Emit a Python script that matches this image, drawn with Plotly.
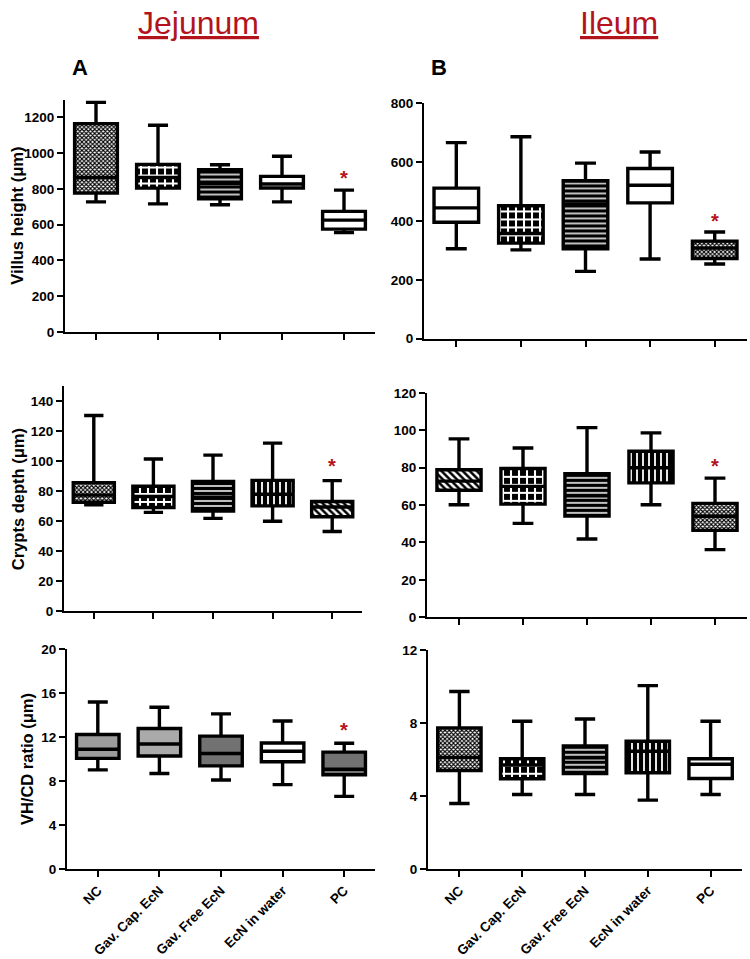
import plotly.graph_objects as go

W, H = 750, 959

groups = ["NC", "Gav. Cap. EcN", "Gav. Free EcN", "EcN in water", "PC"]
xpos = [0, 1, 2, 3, 4]

# ---- Jejunum villus height (um)
jej_vh_lo = [727, 716, 711, 727, 555]
jej_vh_q1 = [776, 804, 745, 805, 575]
jej_vh_med = [864, 864, 830, 827, 625]
jej_vh_q3 = [1165, 937, 908, 870, 674]
jej_vh_hi = [1284, 1156, 935, 983, 793]

# ---- Ileum villus height (um)
ile_vh_lo = [306, 302, 229, 271, 254]
ile_vh_q1 = [396, 325, 306, 462, 273]
ile_vh_med = [445, 358, 458, 522, 308]
ile_vh_q3 = [512, 452, 537, 579, 332]
ile_vh_hi = [667, 687, 597, 635, 363]

# ---- Jejunum crypt depth (um)
jej_cd_lo = [70.9, 65.9, 61.9, 60.0, 53.2]
jej_cd_q1 = [72.6, 69.1, 66.7, 70.2, 63.0]
jej_cd_med = [77.4, 76.5, 76.0, 78.0, 69.5]
jej_cd_q3 = [85.7, 83.3, 86.4, 87.2, 73.1]
jej_cd_hi = [130.4, 101.4, 104.0, 112.0, 87.0]

# ---- Ileum crypt depth (um)
ile_cd_lo = [60.2, 50.2, 41.9, 60.2, 36.2]
ile_cd_q1 = [67.9, 60.5, 54.2, 71.9, 46.5]
ile_cd_med = [72.8, 70.0, 65.0, 80.0, 54.0]
ile_cd_q3 = [78.9, 79.6, 76.8, 88.8, 60.9]
ile_cd_hi = [95.4, 90.5, 101.4, 98.6, 74.4]

# ---- Jejunum VH/CD ratio
jej_r_lo = [9.02, 8.69, 8.10, 7.68, 6.61]
jej_r_q1 = [10.06, 10.27, 9.38, 9.76, 8.57]
jej_r_med = [10.89, 11.37, 10.50, 10.71, 9.08]
jej_r_q3 = [12.23, 12.77, 12.08, 11.46, 10.63]
jej_r_hi = [15.18, 14.70, 14.10, 13.45, 11.43]

# ---- Ileum VH/CD ratio
ile_r_lo = [3.60, 4.09, 4.09, 3.78, 4.09]
ile_r_q1 = [5.40, 4.95, 5.23, 5.28, 4.96]
ile_r_med = [6.12, 5.70, 6.10, 6.45, 5.74]
ile_r_q3 = [7.73, 6.04, 6.74, 7.00, 6.04]
ile_r_hi = [9.72, 8.09, 8.22, 10.04, 8.09]

# significance star positions (value axis) for PC group
star_y = [888, 419, 100, 83.7, 13.1, None]

y_titles = ["Villus height (\u03bcm)", None, "Crypts depth (\u03bcm)", None, "VH/CD ratio (\u03bcm)", None]

# ---------------- styling ----------------
FONT = "Liberation Sans, Arial, sans-serif"
RED = "#b3141c"

# fill styles: (shape, fg, bg, size, solidity, plain color)
STY = {
    "fine": ("x", "#000000", "#ffffff", 3, 0.6, "#ffffff"),
    "checker": ("+", "#ffffff", "#000000", 8, 0.45, "#ffffff"),
    "hlines": ("-", "#000000", "#ffffff", 5, 0.7, "#ffffff"),
    "vlines": ("|", "#000000", "#ffffff", 6, 0.7, "#ffffff"),
    "diag": ("\\", "#000000", "#ffffff", 5, 0.5, "#ffffff"),
    "white": ("", None, None, None, None, "#ffffff"),
    "grey": ("", None, None, None, None, "#9c9c9c"),
    "lgrey": ("", None, None, None, None, "#aaaaaa"),
    "dgrey": ("", None, None, None, None, "#727272"),
}

panels = [
    dict(d=(jej_vh_lo, jej_vh_q1, jej_vh_med, jej_vh_q3, jej_vh_hi),
         fills=["fine", "checker", "hlines", "white", "white"],
         xd=(65, 375), yd=(94, 330), yr=(0, 1300), dt=200, ymaxtick=1200),
    dict(d=(ile_vh_lo, ile_vh_q1, ile_vh_med, ile_vh_q3, ile_vh_hi),
         fills=["white", "checker", "hlines", "white", "fine"],
         xd=(424, 747), yd=(98, 337), yr=(0, 800), dt=200, ymaxtick=800),
    dict(d=(jej_cd_lo, jej_cd_q1, jej_cd_med, jej_cd_q3, jej_cd_hi),
         fills=["fine", "checker", "hlines", "vlines", "diag"],
         xd=(64, 362), yd=(385, 614), yr=(0, 150), dt=20, ymaxtick=140),
    dict(d=(ile_cd_lo, ile_cd_q1, ile_cd_med, ile_cd_q3, ile_cd_hi),
         fills=["diag", "checker", "hlines", "vlines", "fine"],
         xd=(427, 747), yd=(392, 620), yr=(0, 120), dt=20, ymaxtick=120),
    dict(d=(jej_r_lo, jej_r_q1, jej_r_med, jej_r_q3, jej_r_hi),
         fills=["grey", "lgrey", "dgrey", "white", "dgrey"],
         xd=(67, 375), yd=(652, 876), yr=(0, 20), dt=4, ymaxtick=20),
    dict(d=(ile_r_lo, ile_r_q1, ile_r_med, ile_r_q3, ile_r_hi),
         fills=["fine", "checker", "hlines", "vlines", "white"],
         xd=(428, 742), yd=(653, 876), yr=(0, 12), dt=4, ymaxtick=12),
]


def px_x(p):
    return p / W


def px_y(p):
    return 1 - p / H


fig = go.Figure()
layout = {}
annotations = []

for i, pnl in enumerate(panels):
    n = i + 1
    xa = "x" if n == 1 else f"x{n}"
    ya = "y" if n == 1 else f"y{n}"
    lo, q1, med, q3, hi = pnl["d"]

    # interquartile fill (one bar per group, patterned)
    for k in range(len(xpos)):
        shape, fg, bg, size, sol, col = STY[pnl["fills"][k]]
        marker = dict(color=col, line=dict(width=0))
        if shape:
            marker["pattern"] = dict(shape=shape, fgcolor=fg, bgcolor=bg,
                                     size=size, solidity=sol, fillmode="replace")
        fig.add_trace(go.Bar(
            x=[xpos[k]], y=[q3[k] - q1[k]], base=[q1[k]],
            width=0.69, xaxis=xa, yaxis=ya, showlegend=False, hoverinfo="skip",
            marker=marker,
        ))
    fig.add_trace(go.Box(
        x=xpos, q1=q1, median=med, q3=q3, lowerfence=lo, upperfence=hi,
        width=0.69, whiskerwidth=0.47, boxpoints=False,
        fillcolor="rgba(0,0,0,0)", line=dict(color="black", width=3.4),
        xaxis=xa, yaxis=ya, showlegend=False, hoverinfo="skip",
    ))

    bottom = i >= 4
    layout["xaxis" if n == 1 else f"xaxis{n}"] = dict(
        domain=[px_x(pnl["xd"][0]), px_x(pnl["xd"][1])],
        anchor=ya, range=[-0.5, 4.5],
        tickmode="array", tickvals=xpos, ticktext=groups,
        showticklabels=bottom, tickangle=-45,
        ticks="outside", ticklen=6, tickwidth=2, tickcolor="black",
        showline=True, linecolor="black", linewidth=2,
        showgrid=False, zeroline=False, fixedrange=True,
        tickfont=dict(family=FONT, size=13.5, color="black", weight="bold"),
    )
    tv = list(range(0, pnl["ymaxtick"] + 1, pnl["dt"]))
    layout["yaxis" if n == 1 else f"yaxis{n}"] = dict(
        domain=[px_y(pnl["yd"][1]), px_y(pnl["yd"][0])],
        anchor=xa, range=list(pnl["yr"]),
        tickmode="array", tickvals=tv,
        ticks="outside", ticklen=6, tickwidth=2, tickcolor="black",
        showline=True, linecolor="black", linewidth=2,
        showgrid=False, zeroline=False, fixedrange=True,
        tickfont=dict(family=FONT, size=13.5, color="black", weight="bold"),
    )

    if star_y[i] is not None:
        annotations.append(dict(
            x=4, y=star_y[i], xref=xa, yref=ya, text="*", showarrow=False,
            font=dict(family=FONT, size=20, color=RED, weight="bold"),
            yanchor="middle", xanchor="center", yshift=-5,
        ))

# y-axis titles (left column)
ytitle_pos = [(17, 212), None, (18, 500), None, (27, 764), None]
for t, pos in zip(y_titles, ytitle_pos):
    if t:
        annotations.append(dict(
            x=px_x(pos[0]), y=px_y(pos[1]), xref="paper", yref="paper",
            text=t, textangle=-90, showarrow=False,
            xanchor="center", yanchor="middle",
            font=dict(family=FONT, size=16.5, color="black", weight="bold"),
        ))

# section headings
for txt, cx in [("Jejunum", 199), ("Ileum", 619)]:
    annotations.append(dict(
        x=px_x(cx), y=px_y(16), xref="paper", yref="paper",
        text=f"<u>{txt}</u>", showarrow=False, xanchor="center", yanchor="middle",
        font=dict(family=FONT, size=32, color=RED),
    ))

# panel letters
for txt, cx in [("A", 80), ("B", 439)]:
    annotations.append(dict(
        x=px_x(cx), y=px_y(61), xref="paper", yref="paper",
        text=txt, showarrow=False, xanchor="center", yanchor="middle",
        font=dict(family=FONT, size=22, color="black", weight="bold"),
    ))

fig.update_layout(
    width=W, height=H, margin=dict(l=0, r=0, t=0, b=0),
    paper_bgcolor="white", plot_bgcolor="white",
    annotations=annotations, barmode="overlay", boxmode="overlay",
    **layout,
)

fig.write_html(
    "out.html",
    config={"displayModeBar": False},
    post_script="document.body.style.margin='0';document.body.style.overflow='hidden';",
)
